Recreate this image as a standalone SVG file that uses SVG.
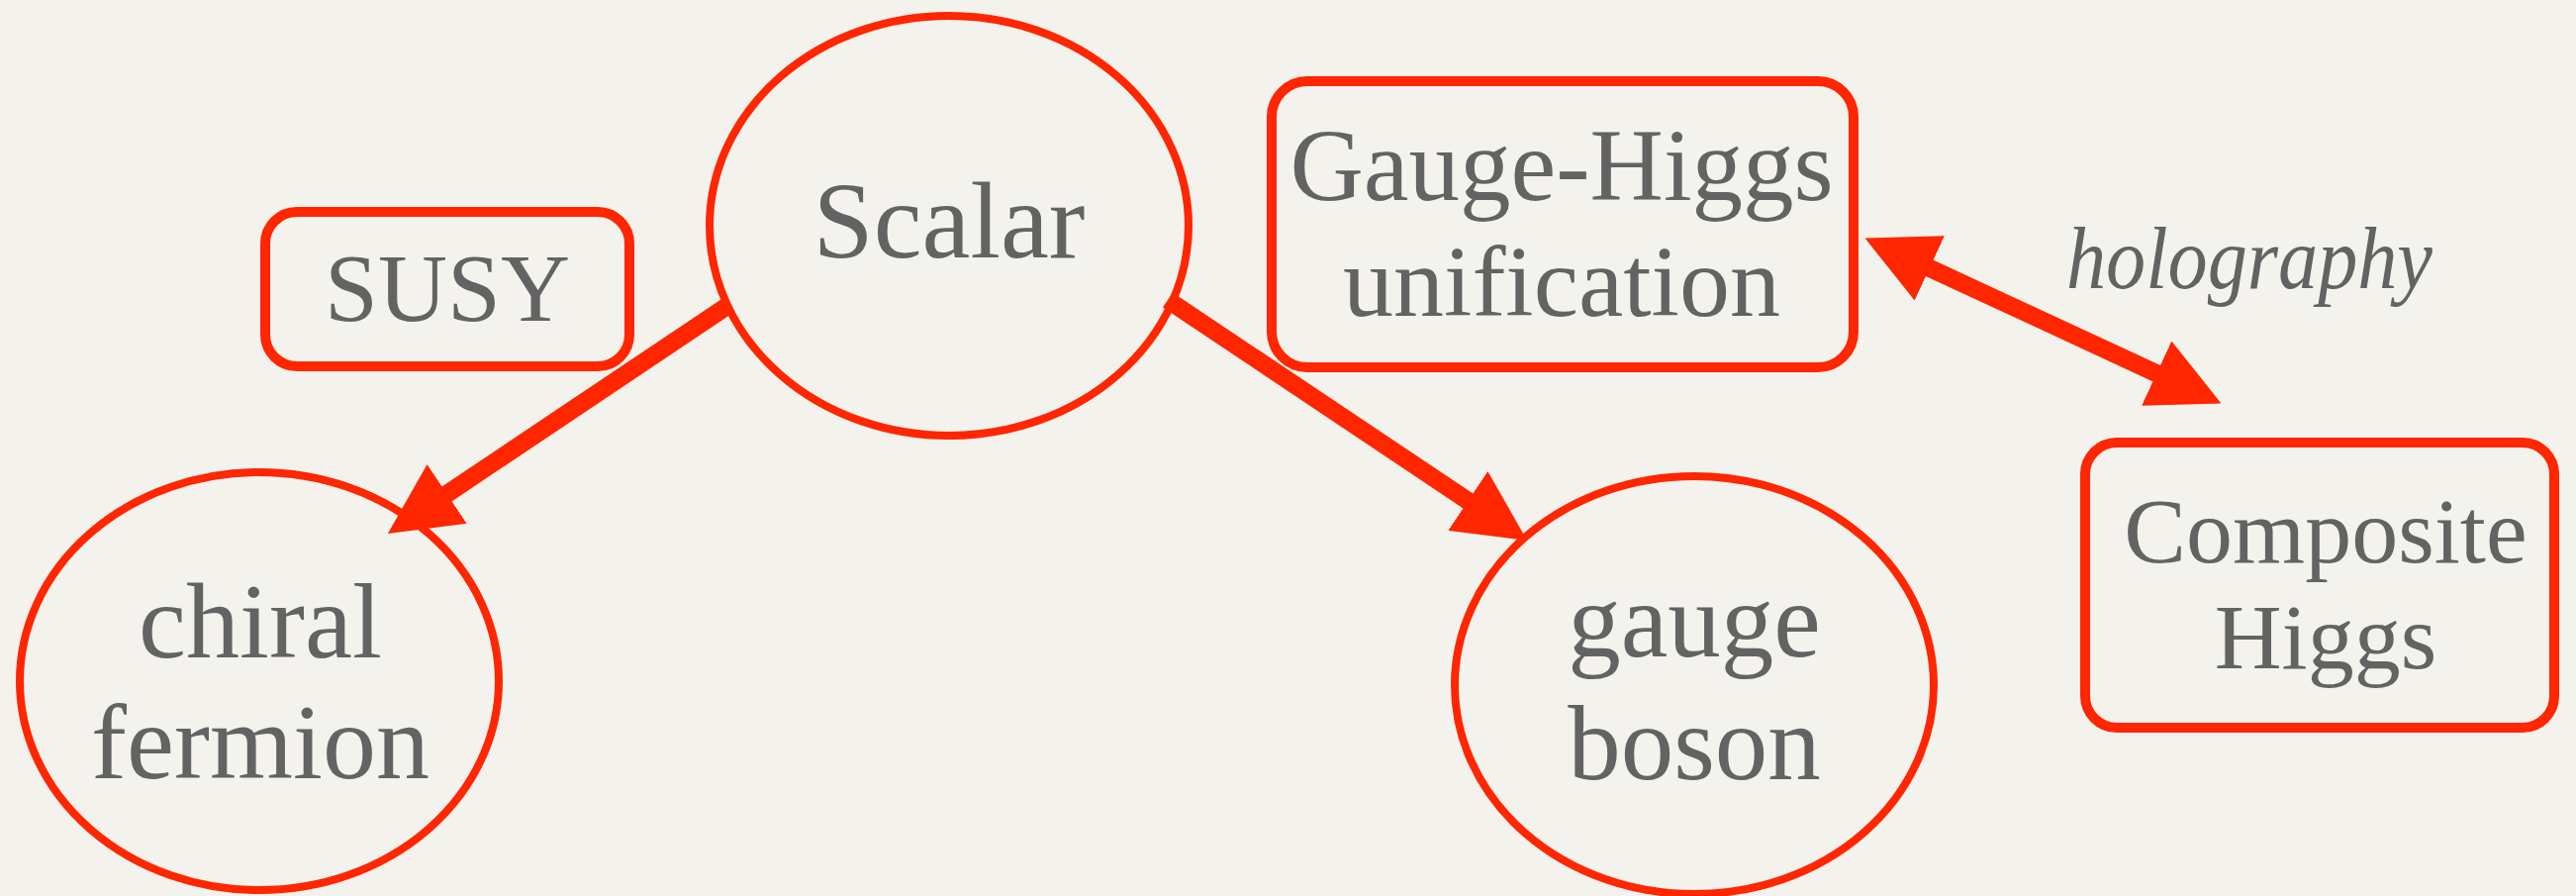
<svg xmlns="http://www.w3.org/2000/svg" width="2603" height="905" viewBox="0 0 2603 905">
  <style>
    .node { fill: none; stroke: #ff2600; }
    .oval { stroke-width: 8; }
    .box { stroke-width: 10; }
    .label { font-family: "Liberation Serif", "Times New Roman", serif; fill: #636363; text-anchor: middle; }
    .edge { stroke: #ff2600; stroke-width: 18; fill: none; }
    .note { font-family: "Liberation Serif", "Times New Roman", serif; font-style: italic; fill: #636363; }
  </style>
  <defs>
    <marker id="head" viewBox="0 0 72 72" refX="2" refY="36" markerWidth="72" markerHeight="72" markerUnits="userSpaceOnUse" orient="auto-start-reverse">
      <path d="M0,0 L72,36 L0,72 Z" fill="#ff2600"/>
    </marker>
  </defs>

  <rect width="2603" height="905" fill="#f4f2ed"/>

  <!-- connectors -->
  <g id="connectors">
    <line class="edge" x1="735" y1="309" x2="450" y2="500" marker-end="url(#head)"/>
    <line class="edge" x1="1180" y1="303" x2="1485" y2="507" marker-end="url(#head)"/>
    <line class="edge" x1="1948" y1="270" x2="2181" y2="378" marker-start="url(#head)" marker-end="url(#head)"/>
  </g>

  <g id="node-scalar">
    <ellipse class="node oval" cx="959" cy="228" rx="242" ry="212"/>
    <text class="label" x="959" y="260" font-size="110">Scalar</text>
  </g>

  <g id="node-susy">
    <rect class="node box" x="268" y="214" width="368" height="156" rx="32"/>
    <text class="label" x="452" y="324" font-size="97">SUSY</text>
  </g>

  <g id="node-chiral-fermion">
    <ellipse class="node oval" cx="262" cy="688" rx="242" ry="211"/>
    <text class="label" x="263" y="664" font-size="108">chiral</text>
    <text class="label" x="263" y="786" font-size="108">fermion</text>
  </g>

  <g id="node-gauge-boson">
    <ellipse class="node oval" cx="1712" cy="692" rx="242" ry="211"/>
    <text class="label" x="1712" y="663" font-size="107">gauge</text>
    <text class="label" x="1712" y="787" font-size="107">boson</text>
  </g>

  <g id="node-gauge-higgs">
    <rect class="node box" x="1285" y="82" width="588" height="289" rx="36"/>
    <text class="label" x="1578" y="202" font-size="103">Gauge-Higgs</text>
    <text class="label" x="1578" y="319" font-size="102">unification</text>
  </g>

  <g id="node-composite-higgs">
    <rect class="node box" x="2107" y="447" width="474" height="288" rx="32"/>
    <text class="label" x="2350" y="568" font-size="94">Composite</text>
    <text class="label" x="2350" y="675" font-size="94">Higgs</text>
  </g>

  <text class="note" x="2088" y="291" font-size="88" textLength="370" lengthAdjust="spacingAndGlyphs">holography</text>
</svg>
